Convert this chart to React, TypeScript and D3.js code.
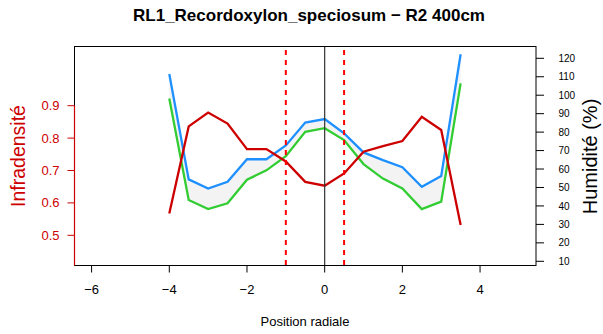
import React from "react";
import * as d3 from "d3";

const positions = [-4, -3.5, -3, -2.5, -2, -1.5, -1, -0.5, 0, 0.5, 1, 1.5, 2, 2.5, 3, 3.5];
const infradensite = [0.567, 0.836, 0.879, 0.845, 0.766, 0.766, 0.728, 0.665, 0.653, 0.691, 0.758, 0.775, 0.791, 0.866, 0.825, 0.532];
const humiditeA = [111.5, 54.4, 49.4, 53.1, 65.3, 65.3, 72.8, 85.2, 87.1, 79.3, 69.0, 64.8, 61.0, 50.4, 56.2, 122.2];
const humiditeB = [98.2, 43.2, 38.3, 41.4, 54.2, 59.3, 67.0, 80.2, 82.1, 75.7, 62.7, 54.8, 49.5, 38.3, 42.3, 106.4];
const xTicks = [-6, -4, -2, 0, 2, 4];
const leftTicks = [0.5, 0.6, 0.7, 0.8, 0.9];
const rightTicks = [10, 20, 30, 40, 50, 60, 70, 80, 90, 100, 110, 120];
const vLinesDashed = [-1, 0.5];
const title = "RL1_Recordoxylon_speciosum \u2212 R2 400cm";

const W = 603, H = 334;
const L = 74.5, R = 536, T = 46.5, B = 265.5;
const FONT = "Liberation Sans, Arial, Helvetica, sans-serif";
const RED = "#CD0000";

export default function App() {
  const x = d3.scaleLinear().domain([-6.44, 5.44]).range([L, R]);
  const yL = d3.scaleLinear().domain([0.5, 0.9]).range([235.3, 105.7]);
  const yR = d3.scaleLinear().domain([10, 120]).range([261.3, 58.3]);
  const idx = positions.map((_, i) => i);

  const area = d3.area<number>()
    .x((i) => x(positions[i]))
    .y0((i) => yR(humiditeB[i]))
    .y1((i) => yR(humiditeA[i]));
  const lineR = d3.line<number>().x((i) => x(positions[i])).y((i) => yR(humiditeA[i]));
  const lineG = d3.line<number>().x((i) => x(positions[i])).y((i) => yR(humiditeB[i]));
  const lineD = d3.line<number>().x((i) => x(positions[i])).y((i) => yL(infradensite[i]));

  const fmtL = d3.format(".1f");
  const fmtX = (v: number) => (v < 0 ? "\u2212" + Math.abs(v) : String(v));

  return (
    <svg width={W} height={H} style={{ position: "absolute", left: 0, top: 0, background: "#fff" }} fontFamily={FONT}>
      <rect x={0} y={0} width={W} height={H} fill="#fff" />
      <text x={309} y={21} textAnchor="middle" fontWeight="bold" fontSize={17}>{title}</text>
      <defs>
        <clipPath id="plotclip">
          <rect x={L} y={T} width={R - L} height={B - T} />
        </clipPath>
      </defs>
      <g clipPath="url(#plotclip)">
        <path d={area(idx) || ""} fill="#F3F3F3" stroke="none" />
        <path d={lineR(idx) || ""} fill="none" stroke="#1E90FF" strokeWidth={2.3} />
        <path d={lineG(idx) || ""} fill="none" stroke="#32CD32" strokeWidth={2.3} />
        <path d={lineD(idx) || ""} fill="none" stroke={RED} strokeWidth={2.3} />
        <line x1={x(0)} x2={x(0)} y1={T} y2={B} stroke="#333" strokeWidth={1.2} />
        {vLinesDashed.map((v) => (
          <line key={v} x1={x(v)} x2={x(v)} y1={T} y2={B} stroke="#FF0000" strokeWidth={2} strokeDasharray="5,5" strokeDashoffset={6.5} />
        ))}
      </g>
      <rect x={L} y={T} width={R - L} height={B - T} fill="none" stroke="#000" strokeWidth={1} />
      {/* bottom axis */}
      {xTicks.map((t) => (
        <g key={t}>
          <line x1={x(t)} x2={x(t)} y1={B} y2={B + 7} stroke="#000" />
          <text x={x(t)} y={294} textAnchor="middle" fontSize={13}>{fmtX(t)}</text>
        </g>
      ))}
      <text x={305} y={326} textAnchor="middle" fontSize={13}>Position radiale</text>
      {/* left axis */}
      <line x1={L} x2={L} y1={yL(0.9)} y2={B} stroke={RED} strokeWidth={1.2} />
      {leftTicks.map((t) => (
        <g key={t}>
          <line x1={L - 7} x2={L} y1={yL(t)} y2={yL(t)} stroke={RED} />
          <text x={59.5} y={yL(t) + 4.5} textAnchor="end" fontSize={13} fill={RED}>{fmtL(t)}</text>
        </g>
      ))}
      <text transform={`translate(25,156) rotate(-90)`} textAnchor="middle" fontSize={19.5} fill={RED}>Infradensité</text>
      {/* right axis */}
      {rightTicks.map((t) => (
        <g key={t}>
          <line x1={R} x2={R + 8} y1={yR(t)} y2={yR(t)} stroke="#000" />
          <text x={558.5} y={yR(t) + 3.6} textAnchor="start" fontSize={10}>{t}</text>
        </g>
      ))}
      <text transform={`translate(597,156.5) rotate(-90)`} textAnchor="middle" fontSize={20}>Humidité (%)</text>
    </svg>
  );
}
